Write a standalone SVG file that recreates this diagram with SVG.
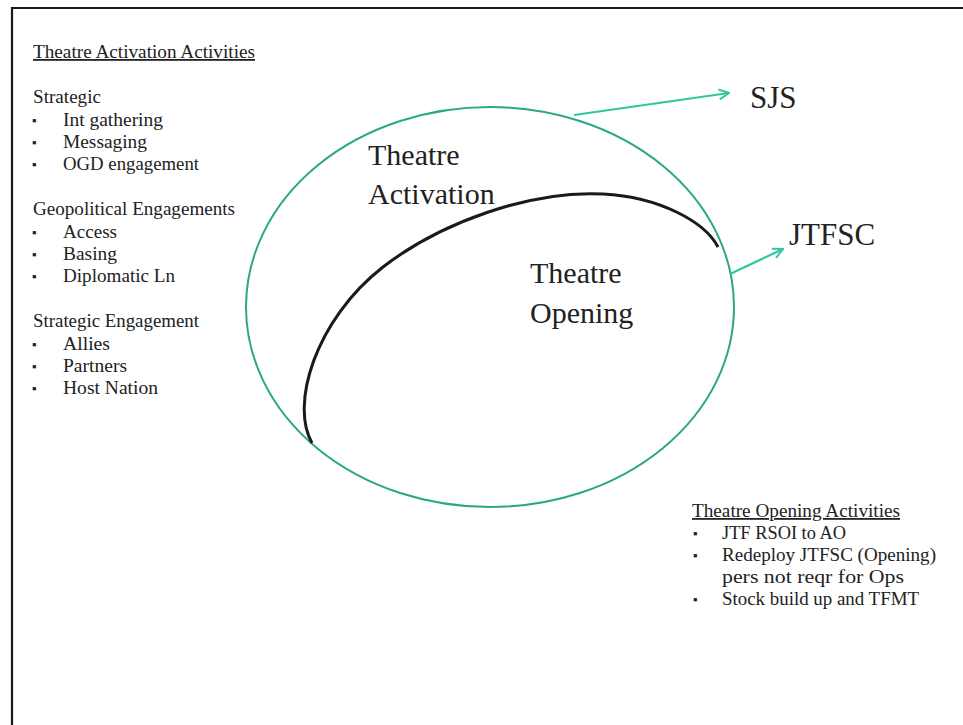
<svg xmlns="http://www.w3.org/2000/svg" width="963" height="725" viewBox="0 0 963 725">
  <defs>
    <marker id="openArrow" viewBox="0 0 12 12" refX="11" refY="6" markerWidth="12" markerHeight="12" markerUnits="userSpaceOnUse" orient="auto">
      <path d="M1,1 L11,6 L1,11" fill="none" stroke="#30c7a0" stroke-width="2"/>
    </marker>
  </defs>
  <style>
    .frame { fill: none; stroke: #1a1a1a; stroke-width: 2.2; }
    .outer { fill: none; stroke: #2aa68a; stroke-width: 2; }
    .inner { fill: none; stroke: #1a1a1a; stroke-width: 3; }
    .conn { fill: none; stroke: #30c7a0; stroke-width: 2.2; }
    .big { font-family: "Liberation Serif", "Times New Roman", serif; font-size: 30px; fill: #222; }
    .small { font-family: "Liberation Serif", "Times New Roman", serif; font-size: 18px; fill: #222; }
    .bullet { font-size: 13px; }
    .ul { text-decoration: underline; }
  </style>

  <rect width="963" height="725" fill="#ffffff"/>

  <!-- page frame (top and left edges) -->
  <path class="frame" d="M12,725 L12,8 L963,8"/>

  <!-- Theatre Activation (outer ellipse) -->
  <g id="theatre-activation">
    <ellipse class="outer" cx="490" cy="307" rx="244" ry="200"/>
    <text class="big" x="368" y="165">Theatre</text>
    <text class="big" x="368" y="204">Activation</text>
  </g>

  <!-- Theatre Opening (inner region bounded by the black arc) -->
  <g id="theatre-opening">
    <path class="inner" d="M312,443 C290,405 315,320 383,267 C440,223 530,190 603,194 C660,197 705,222 718,247"/>
    <text class="big" x="530" y="283">Theatre</text>
    <text class="big" x="530" y="323">Opening</text>
  </g>

  <g id="sjs">
    <text class="big" x="750" y="108" style="font-size:31px">SJS</text>
  </g>

  <g id="jtfsc">
    <text class="big" x="789" y="245" style="font-size:31px">JTFSC</text>
  </g>

  <!-- connectors -->
  <g id="connectors">
    <line class="conn" x1="574" y1="115" x2="729" y2="93" marker-end="url(#openArrow)"/>
    <line class="conn" x1="730" y1="274" x2="783" y2="249" marker-end="url(#openArrow)"/>
  </g>

  <!-- activation activity list -->
  <g id="activation-activities" class="small">
    <text class="ul" x="33" y="58" textLength="222" lengthAdjust="spacingAndGlyphs">Theatre Activation Activities</text>
    <text x="33" y="103" textLength="68" lengthAdjust="spacingAndGlyphs">Strategic</text>
    <text class="bullet" x="32" y="125">▪</text><text x="63" y="126" textLength="100" lengthAdjust="spacingAndGlyphs">Int gathering</text>
    <text class="bullet" x="32" y="147">▪</text><text x="63" y="148" textLength="84" lengthAdjust="spacingAndGlyphs">Messaging</text>
    <text class="bullet" x="32" y="169">▪</text><text x="63" y="170" textLength="136" lengthAdjust="spacingAndGlyphs">OGD engagement</text>
    <text x="33" y="215" textLength="202" lengthAdjust="spacingAndGlyphs">Geopolitical Engagements</text>
    <text class="bullet" x="32" y="237">▪</text><text x="63" y="238" textLength="54" lengthAdjust="spacingAndGlyphs">Access</text>
    <text class="bullet" x="32" y="259">▪</text><text x="63" y="260" textLength="54" lengthAdjust="spacingAndGlyphs">Basing</text>
    <text class="bullet" x="32" y="281">▪</text><text x="63" y="282" textLength="112" lengthAdjust="spacingAndGlyphs">Diplomatic Ln</text>
    <text x="33" y="327" textLength="166" lengthAdjust="spacingAndGlyphs">Strategic Engagement</text>
    <text class="bullet" x="32" y="349">▪</text><text x="63" y="350" textLength="47" lengthAdjust="spacingAndGlyphs">Allies</text>
    <text class="bullet" x="32" y="371">▪</text><text x="63" y="372" textLength="64" lengthAdjust="spacingAndGlyphs">Partners</text>
    <text class="bullet" x="32" y="393">▪</text><text x="63" y="394" textLength="95" lengthAdjust="spacingAndGlyphs">Host Nation</text>
  </g>

  <!-- opening activity list -->
  <g id="opening-activities" class="small">
    <text class="ul" x="692" y="517" textLength="208" lengthAdjust="spacingAndGlyphs">Theatre Opening Activities</text>
    <text class="bullet" x="693" y="538">▪</text><text x="722" y="539" textLength="124" lengthAdjust="spacingAndGlyphs">JTF  RSOI to AO</text>
    <text class="bullet" x="693" y="560">▪</text><text x="722" y="561" textLength="214" lengthAdjust="spacingAndGlyphs">Redeploy JTFSC (Opening)</text>
    <text x="722" y="583" textLength="182" lengthAdjust="spacingAndGlyphs">pers not reqr for Ops</text>
    <text class="bullet" x="693" y="604">▪</text><text x="722" y="605" textLength="197" lengthAdjust="spacingAndGlyphs">Stock build up and TFMT</text>
  </g>
</svg>
